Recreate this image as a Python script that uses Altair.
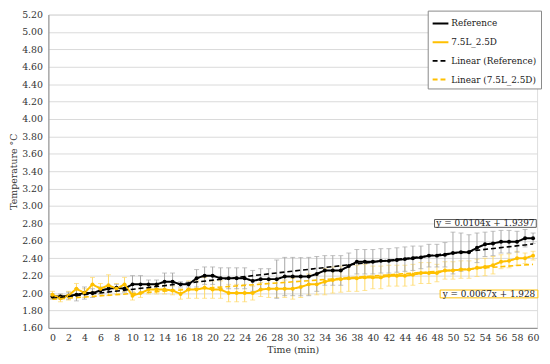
import altair as alt
import pandas as pd

minutes = list(range(0, 61))
ref_vals = [1.96, 1.96, 1.97, 1.98, 2.00, 2.00, 2.03, 2.05, 2.06, 2.05,
            2.10, 2.10, 2.10, 2.10, 2.13, 2.13, 2.10, 2.10, 2.17, 2.20,
            2.20, 2.17, 2.17, 2.17, 2.17, 2.14, 2.16, 2.16, 2.16, 2.19,
            2.19, 2.19, 2.19, 2.22, 2.26, 2.26, 2.26, 2.31, 2.36, 2.36,
            2.36, 2.37, 2.37, 2.38, 2.39, 2.40, 2.41, 2.43, 2.43, 2.44,
            2.46, 2.47, 2.47, 2.52, 2.56, 2.57, 2.59, 2.59, 2.59, 2.63,
            2.63]
ref_err = [0.03, 0.03, 0.04, 0.07, 0.07, 0.05, 0.04, 0.04, 0.04, 0.04,
           0.10, 0.10, 0.05, 0.05, 0.10, 0.10, 0.03, 0.03, 0.10, 0.10,
           0.10, 0.12, 0.12, 0.12, 0.12, 0.12, 0.12, 0.12, 0.22, 0.22,
           0.22, 0.22, 0.22, 0.20, 0.17, 0.17, 0.17, 0.15, 0.14, 0.14,
           0.14, 0.14, 0.14, 0.14, 0.14, 0.14, 0.13, 0.13, 0.13, 0.14,
           0.24, 0.22, 0.20, 0.17, 0.14, 0.14, 0.13, 0.13, 0.12, 0.10,
           0.06]
yel_vals = [1.98, 1.94, 1.97, 2.05, 2.00, 2.10, 2.05, 2.09, 2.05, 2.10,
            1.97, 2.00, 2.04, 2.04, 2.04, 2.03, 1.99, 2.04, 2.04, 2.06,
            2.04, 2.04, 2.00, 2.00, 2.00, 2.00, 2.04, 2.05, 2.05, 2.05,
            2.05, 2.07, 2.10, 2.10, 2.13, 2.15, 2.16, 2.17, 2.17, 2.18,
            2.18, 2.18, 2.20, 2.20, 2.20, 2.21, 2.23, 2.23, 2.23, 2.26,
            2.26, 2.27, 2.27, 2.29, 2.30, 2.32, 2.36, 2.37, 2.40, 2.40,
            2.43]
yel_err = [0.04, 0.04, 0.05, 0.06, 0.05, 0.08, 0.06, 0.12, 0.06, 0.08,
           0.05, 0.05, 0.05, 0.05, 0.05, 0.05, 0.06, 0.10, 0.10, 0.12,
           0.10, 0.10, 0.10, 0.10, 0.10, 0.08, 0.08, 0.10, 0.10, 0.10,
           0.12, 0.12, 0.12, 0.12, 0.15, 0.15, 0.15, 0.15, 0.15, 0.15,
           0.13, 0.13, 0.12, 0.12, 0.12, 0.12, 0.12, 0.12, 0.10, 0.10,
           0.10, 0.10, 0.10, 0.10, 0.10, 0.10, 0.08, 0.08, 0.08, 0.06,
           0.05]

series_names = ["Reference", "7.5L_2.5D", "Linear (Reference)", "Linear (7.5L_2.5D)"]
series_colors = ["#000000", "#FFC000", "#000000", "#FFC000"]
series_dash = [[1, 0], [1, 0], [5, 3], [5, 3]]
err_colors = {"Reference": "#a6a6a6", "7.5L_2.5D": "#ffd966"}
slopes = [0.0104, 0.0067]
intercepts = [1.9397, 1.928]
eq_labels = ["y = 0.0104x + 1.9397", "y = 0.0067x + 1.928"]
y_ticks = [round(1.6 + 0.2 * i, 2) for i in range(19)]
x_ticks = list(range(0, 61, 2))

FONT = "DejaVu Serif"
FS = 9.5
FS_SMALL = 9

rows = []
for name, vals, errs in [("Reference", ref_vals, ref_err), ("7.5L_2.5D", yel_vals, yel_err)]:
    for m, v, e in zip(minutes, vals, errs):
        rows.append({"t": m, "v": v, "lo": v - e, "hi": v + e, "series": name})
df = pd.DataFrame(rows)

trend_rows = []
for name, s, b in zip(series_names[2:], slopes, intercepts):
    for m in (minutes[0], minutes[-1]):
        trend_rows.append({"t": m, "v": b + s * m, "series": name})
tdf = pd.DataFrame(trend_rows)

xscale = alt.Scale(domain=[-0.5, 60.5], nice=False, zero=False)
yscale = alt.Scale(domain=[1.6, 5.2], nice=False, zero=False)
cscale = alt.Scale(domain=series_names, range=series_colors)
dscale = alt.Scale(domain=series_names, range=series_dash)

xax = alt.Axis(values=x_ticks, title="Time (min)", grid=False, ticks=False,
               labelOverlap=False, labelFont=FONT, titleFont=FONT,
               labelFontSize=FS, titleFontSize=FS, titleFontWeight="normal",
               labelColor="#333", titleColor="#333", domainColor="#888",
               labelPadding=5, titlePadding=2)
yax = alt.Axis(values=y_ticks, format=".2f", title="Temperature °C", grid=True,
               labelOverlap=False, gridColor="#d9d9d9", ticks=False,
               labelFont=FONT, titleFont=FONT, labelFontSize=FS, titleFontSize=FS,
               titleFontWeight="normal", labelColor="#333", titleColor="#333",
               domainColor="#888", labelPadding=6, titlePadding=3)


def X(f="t:Q"):
    return alt.X(f, scale=xscale, axis=xax)


def Y(f):
    return alt.Y(f, scale=yscale, axis=yax)


err_layers = []
for name in ["7.5L_2.5D", "Reference"]:
    sub = alt.Chart(df).transform_filter(alt.datum.series == name)
    col = err_colors[name]
    err_layers.append(sub.mark_rule(strokeWidth=1, color=col).encode(
        x=X(), y=Y("lo:Q"), y2="hi:Q"))
    err_layers.append(sub.mark_tick(orient="horizontal", size=5, thickness=1, color=col).encode(
        x=X(), y=Y("lo:Q")))
    err_layers.append(sub.mark_tick(orient="horizontal", size=5, thickness=1, color=col).encode(
        x=X(), y=Y("hi:Q")))

legend = alt.Legend(title=None, orient="none", legendX=385, legendY=-4,
                    symbolType="stroke", symbolSize=256, symbolStrokeWidth=2,
                    labelFont=FONT, labelFontSize=FS_SMALL, labelColor="#222",
                    fillColor="white", strokeColor="#888", padding=4,
                    rowPadding=5, labelOffset=2, labelLimit=200)

lines = alt.Chart(df).mark_line(strokeWidth=2).encode(
    x=X(), y=Y("v:Q"),
    color=alt.Color("series:N", scale=cscale, legend=legend),
    strokeDash=alt.StrokeDash("series:N", scale=dscale, legend=legend),
    order="t:Q",
)
points = alt.Chart(df).mark_point(filled=True, size=16, opacity=1, shape="circle").encode(
    x=X(), y=Y("v:Q"),
    color=alt.Color("series:N", scale=cscale, legend=legend),
)
trend = alt.Chart(tdf).mark_line(strokeWidth=1.6).encode(
    x=X(), y=Y("v:Q"),
    color=alt.Color("series:N", scale=cscale, legend=legend),
    strokeDash=alt.StrokeDash("series:N", scale=dscale, legend=legend),
)

ann = pd.DataFrame({
    "x1": [47.7, 48.4], "x2": [60.4, 60.6],
    "y1": [2.755, 1.945], "y2": [2.845, 2.035],
    "tx": [54.05, 54.5], "ty": [2.80, 1.99],
    "label": eq_labels,
})
box_colors = ["#595959", "#FFC000"]
ann_layers = []
for i in range(2):
    a = ann.iloc[[i]]
    ann_layers.append(alt.Chart(a).mark_rect(fill="white", stroke=box_colors[i], strokeWidth=1).encode(
        x=X("x1:Q"), x2="x2:Q", y=Y("y1:Q"), y2="y2:Q"))
    ann_layers.append(alt.Chart(a).mark_text(font=FONT, fontSize=FS_SMALL, color="#222").encode(
        x=X("tx:Q"), y=Y("ty:Q"), text="label:N"))

chart = alt.layer(*err_layers, lines, points, trend, *ann_layers).properties(
    width=496, height=318,
    autosize=alt.AutoSizeParams(type="none"),
    padding={"left": 41, "top": 4, "right": 5, "bottom": 34},
).configure_view(stroke="#bfbfbf", strokeWidth=1).configure_axis(
    labelOverlap=False
).configure(background="white")

chart.save("out.html", embed_options={"renderer": "svg", "actions": False})
